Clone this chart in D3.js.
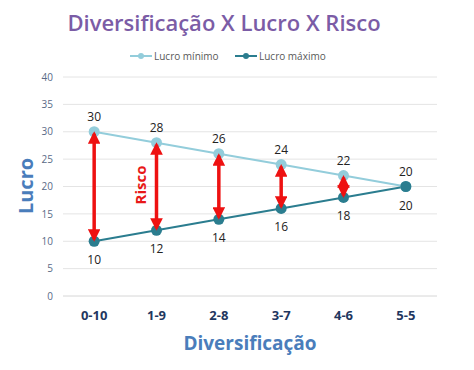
<!DOCTYPE html>
<html>
<head>
<meta charset="utf-8">
<script src="https://cdn.jsdelivr.net/npm/d3@7"></script>
<style>
  body { margin: 0; background: #fff; }
  text { font-family: "Open Sans", "DejaVu Sans", sans-serif; }
</style>
</head>
<body>
<div class="chart"></div>
<script>
var categories = ["0-10", "1-9", "2-8", "3-7", "4-6", "5-5"];
var lucroMinimo = [30, 28, 26, 24, 22, 20];
var lucroMaximo = [10, 12, 14, 16, 18, 20];
var yTicks = [0, 5, 10, 15, 20, 25, 30, 35, 40];

var width = 474, height = 370;
var margin = {top: 77, bottom: 74, left: 63, right: 37};

var colMin = "#93cddb";
var colMax = "#2b7d8f";

var svg = d3.select(".chart").append("svg")
  .attr("width", width)
  .attr("height", height);

var xScale = d3.scaleBand()
  .domain(categories)
  .range([margin.left, width - margin.right]);

var yScale = d3.scaleLinear()
  .domain([0, 40])
  .range([height - margin.bottom, margin.top]);

var cx = function(i){ return xScale(categories[i]) + xScale.bandwidth() / 2; };

// title
svg.append("text")
  .attr("x", 224).attr("y", 31)
  .attr("text-anchor", "middle")
  .attr("font-size", 22).attr("font-weight", 600)
  .attr("fill", "#7b5ca6")
  .text("Diversificação X Lucro X Risco");

// gridlines
svg.append("g")
  .selectAll("line")
  .data(yTicks)
  .enter()
  .append("line")
  .attr("x1", margin.left).attr("x2", width - margin.right)
  .attr("y1", function(d){ return yScale(d); })
  .attr("y2", function(d){ return yScale(d); })
  .attr("stroke", function(d){ return d == 0 ? "#d6d6d6" : "#e4e4e4"; })
  .attr("stroke-width", 1);

// y axis
var yAxis = svg.append("g")
  .attr("transform", "translate(" + margin.left + ",0)")
  .call(d3.axisLeft(yScale).tickValues(yTicks).tickSize(0).tickPadding(10));
yAxis.select(".domain").remove();
yAxis.selectAll("text").attr("font-size", 10).attr("fill", "#596a86")
  .attr("font-family", "'Open Sans', sans-serif");

// x axis
var xAxis = svg.append("g")
  .attr("transform", "translate(0," + (height - margin.bottom) + ")")
  .call(d3.axisBottom(xScale).tickSize(0).tickPadding(15));
xAxis.select(".domain").remove();
xAxis.selectAll("text").attr("font-size", 13).attr("font-weight", "bold")
  .attr("fill", "#1f3760").attr("font-family", "'Open Sans', sans-serif");

// axis titles
svg.append("text")
  .attr("x", 250).attr("y", 350)
  .attr("text-anchor", "middle")
  .attr("font-size", 19).attr("font-weight", "bold")
  .attr("fill", "#4a7dbb")
  .text("Diversificação");

svg.append("text")
  .attr("transform", "translate(33,186) rotate(-90)")
  .attr("text-anchor", "middle")
  .attr("font-size", 20).attr("font-weight", "bold")
  .attr("fill", "#4a7dbb")
  .text("Lucro");

// lines
var line = d3.line()
  .x(function(d, i){ return cx(i); })
  .y(function(d){ return yScale(d); });

svg.append("path").datum(lucroMinimo)
  .attr("d", line).attr("fill", "none")
  .attr("stroke", colMin).attr("stroke-width", 2);
svg.append("path").datum(lucroMaximo)
  .attr("d", line).attr("fill", "none")
  .attr("stroke", colMax).attr("stroke-width", 2);

// arrows (risk)
var defs = svg.append("defs");
defs.append("marker")
  .attr("id", "ah")
  .attr("viewBox", "0 0 10 10")
  .attr("refX", 8).attr("refY", 5)
  .attr("markerWidth", 3.6).attr("markerHeight", 3.6)
  .attr("orient", "auto-start-reverse")
  .append("path")
  .attr("d", "M0,0 L10,5 L0,10 z")
  .attr("fill", "#ee1111");

var riskIdx = d3.range(categories.length).filter(function(i){ return lucroMinimo[i] != lucroMaximo[i]; });

// markers
svg.append("g").selectAll("circle")
  .data(lucroMinimo).enter().append("circle")
  .attr("cx", function(d, i){ return cx(i); })
  .attr("cy", function(d){ return yScale(d); })
  .attr("r", 5.5).attr("fill", colMin);
svg.append("g").selectAll("circle")
  .data(lucroMaximo).enter().append("circle")
  .attr("cx", function(d, i){ return cx(i); })
  .attr("cy", function(d){ return yScale(d); })
  .attr("r", 5.5).attr("fill", colMax);

svg.append("g").selectAll("line")
  .data(riskIdx).enter().append("line")
  .attr("x1", function(i){ return cx(i); })
  .attr("x2", function(i){ return cx(i); })
  .attr("y1", function(i){ return yScale(lucroMinimo[i]) + 2; })
  .attr("y2", function(i){ return yScale(lucroMaximo[i]) - 2; })
  .attr("stroke", "#ee1111").attr("stroke-width", 3.5)
  .attr("marker-start", "url(#ah)")
  .attr("marker-end", "url(#ah)");

svg.append("text")
  .attr("transform", "translate(146,185) rotate(-90)")
  .attr("text-anchor", "middle")
  .attr("font-size", 15).attr("font-weight", "bold")
  .attr("fill", "#e81818")
  .text("Risco");

// data labels
svg.append("g").selectAll("text")
  .data(lucroMinimo).enter().append("text")
  .attr("x", function(d, i){ return cx(i); })
  .attr("y", function(d){ return yScale(d) - 11; })
  .attr("text-anchor", "middle")
  .attr("font-size", 12).attr("fill", "#222")
  .text(function(d){ return d; });
svg.append("g").selectAll("text")
  .data(lucroMaximo).enter().append("text")
  .attr("x", function(d, i){ return cx(i); })
  .attr("y", function(d){ return yScale(d) + 23; })
  .attr("text-anchor", "middle")
  .attr("font-size", 12).attr("fill", "#222")
  .text(function(d){ return d; });

// legend
var legend = [
  {name: "Lucro mínimo", color: colMin, x: 130},
  {name: "Lucro máximo", color: colMax, x: 235}
];
var lg = svg.append("g").selectAll("g")
  .data(legend).enter().append("g")
  .attr("transform", function(d){ return "translate(" + d.x + ",56)"; });
lg.append("line")
  .attr("x1", 0).attr("x2", 22)
  .attr("stroke", function(d){ return d.color; }).attr("stroke-width", 2);
lg.append("circle")
  .attr("cx", 11).attr("r", 3)
  .attr("fill", function(d){ return d.color; });
lg.append("text")
  .attr("x", 24).attr("y", 3.5)
  .attr("font-size", 10).attr("fill", "#595959")
  .text(function(d){ return d.name; });
</script>
</body>
</html>
